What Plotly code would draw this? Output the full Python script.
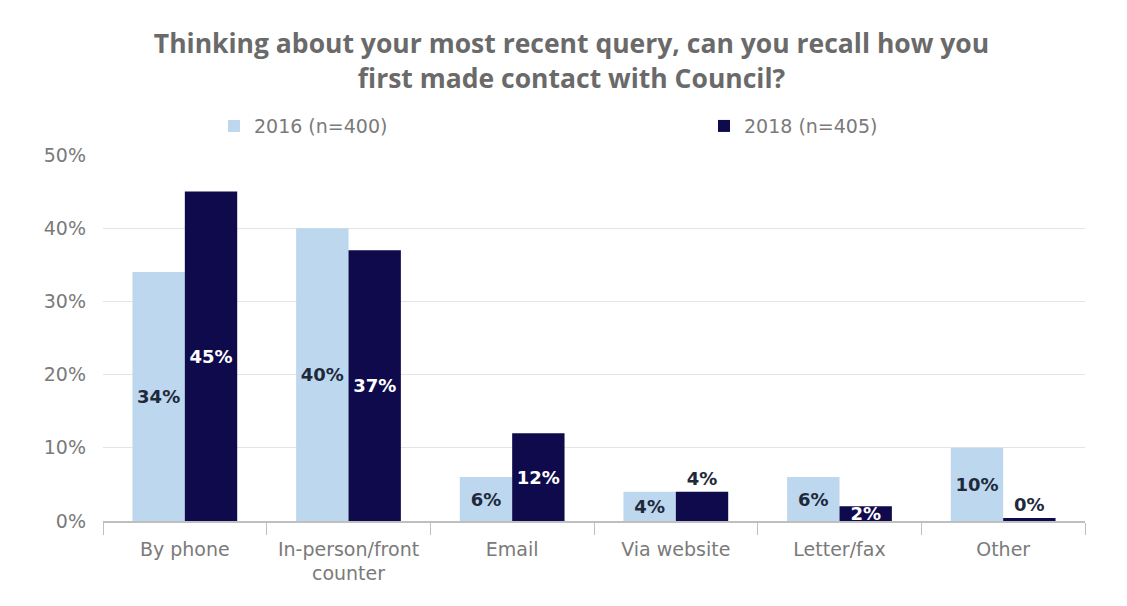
import plotly.graph_objects as go

# ── Data ──────────────────────────────────────────────────────────────────────
categories = ["By phone", "In-person/front<br>counter", "Email", "Via website", "Letter/fax", "Other"]
values_2016 = [34, 40, 6, 4, 6, 10]
values_2018 = [45, 37, 12, 4, 2, 0.4]
labels_2016 = ["34%", "40%", "6%", "4%", "6%", "10%"]
labels_2018 = ["45%", "37%", "12%", "4%", "2%", "0%"]
y_ticks = [0, 10, 20, 30, 40, 50]

# ── Colours ───────────────────────────────────────────────────────────────────
LIGHT_BLUE = "#BDD7EE"
NAVY = "#0F0A4C"
GREY_TEXT = "#7A7A7A"
DARK_LABEL = "#1E2A3C"
GRID = "#E4E4E4"
FONT = "DejaVu Sans"
TITLE_FONT = "Open Sans"

fig = go.Figure()

fig.add_trace(go.Bar(
    x=categories,
    y=values_2016,
    name="2016 (n=400)",
    legend="legend",
    marker=dict(color=LIGHT_BLUE, line=dict(width=0)),
    text=[f"<b>{t}</b>" for t in labels_2016],
    textposition="inside",
    insidetextanchor="middle",
    constraintext="none",
    textfont=dict(color=DARK_LABEL, size=18, family=FONT),
    textangle=0,
))

fig.add_trace(go.Bar(
    x=categories,
    y=values_2018,
    name="2018 (n=405)",
    legend="legend2",
    marker=dict(color=NAVY, line=dict(width=0)),
    text=[f"<b>{t}</b>" for t in labels_2018],
    textposition=["inside", "inside", "inside", "outside", "inside", "outside"],
    insidetextanchor="middle",
    constraintext="none",
    textfont=dict(size=18, family=FONT,
                  color=["white", "white", "white", DARK_LABEL, "white", DARK_LABEL]),
    textangle=0,
    cliponaxis=False,
))

legend_style = dict(
    orientation="h",
    yanchor="middle",
    y=1.079,
    xanchor="left",
    font=dict(color=GREY_TEXT, size=19, family=FONT),
    itemwidth=30,
    bgcolor="rgba(0,0,0,0)",
)

fig.update_layout(
    title=dict(
        text="<b>Thinking about your most recent query, can you recall how you<br>first made contact with Council?</b>",
        font=dict(color="#6A6A6A", size=26.5, family=TITLE_FONT),
        x=0.5, xanchor="center",
        y=0.925, yanchor="top",
    ),
    barmode="group",
    bargap=0.36,
    bargroupgap=0,
    legend=dict(legend_style, x=0.113),
    legend2=dict(legend_style, x=0.612),
    xaxis=dict(
        showline=True,
        linecolor="#BFBFBF",
        linewidth=1.5,
        ticks="outside",
        tickson="boundaries",
        ticklen=12,
        tickcolor="#BFBFBF",
        tickfont=dict(color=GREY_TEXT, size=19, family=FONT),
        ticklabelstandoff=10,
        automargin=False,
    ),
    yaxis=dict(
        range=[0, 50],
        tickvals=y_ticks,
        ticktext=[f"{v}%" for v in y_ticks],
        showgrid=True,
        gridcolor=GRID,
        gridwidth=1,
        zeroline=False,
        tickfont=dict(color=GREY_TEXT, size=19, family=FONT),
        ticklabelstandoff=16,
        automargin=False,
    ),
    plot_bgcolor="white",
    paper_bgcolor="white",
    margin=dict(l=95, r=50, t=147, b=93, autoexpand=False),
    width=1127,
    height=606,
    showlegend=True,
)

fig.write_html("out.html")
